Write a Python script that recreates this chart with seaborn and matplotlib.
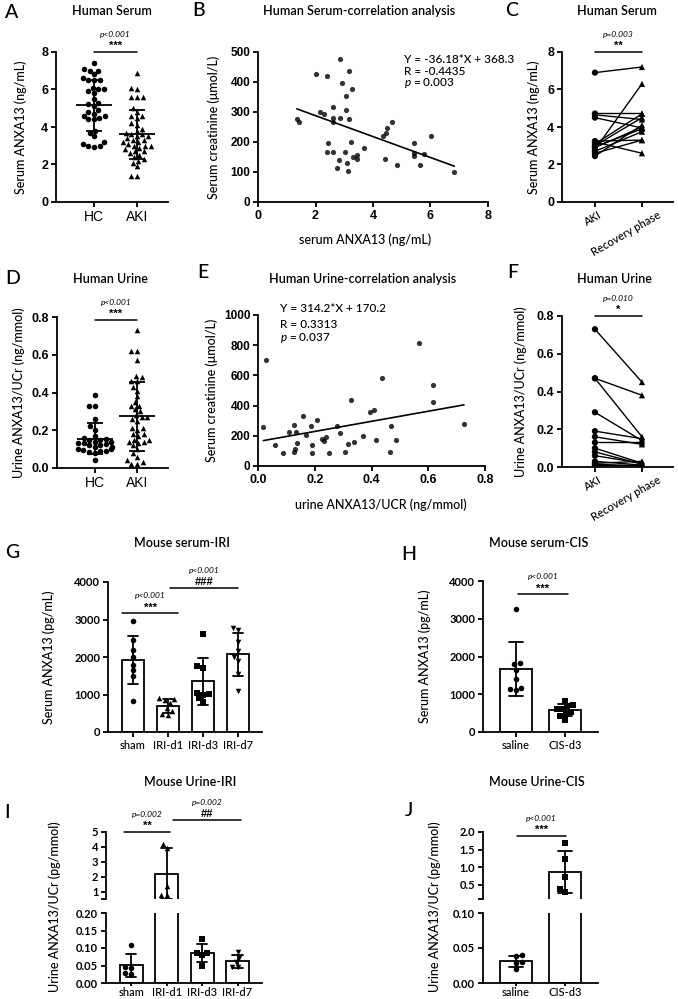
import numpy as np
import pandas as pd
import matplotlib
matplotlib.use("Agg")
import matplotlib.pyplot as plt
from matplotlib.transforms import ScaledTranslation
import seaborn as sns

# ---------------- data ----------------
# A: human serum ANXA13 (ng/mL)
serum_hc = [7.4, 7.1, 7.0, 7.0, 6.8, 6.6, 6.5, 6.5, 6.5, 6.1, 6.0, 6.0, 5.9, 5.8, 5.5, 5.3, 5.2,
            5.1, 4.9, 4.8, 4.7, 4.6, 4.6, 4.5, 4.4, 4.4, 3.8, 3.7, 3.5, 3.2, 3.1, 3.0, 3.0, 2.95]
serum_aki = [6.9, 6.1, 6.0, 5.6, 5.6, 5.6, 5.0, 4.8, 4.6, 4.6, 4.5, 4.2, 4.1, 3.9, 3.8, 3.7, 3.6,
             3.5, 3.5, 3.4, 3.3, 3.2, 3.2, 3.1, 3.0, 3.0, 3.0, 2.9, 2.8, 2.7, 2.7, 2.6, 2.5, 2.4,
             2.3, 2.2, 2.1, 1.9, 1.4, 1.4, 3.3, 3.6]

# B: serum ANXA13 vs serum creatinine
b_anxa13 = [1.35, 1.42, 2.03, 2.15, 2.30, 2.40, 2.45, 2.41, 2.60, 2.62, 2.62, 2.60, 2.76, 2.83,
            2.84, 2.84, 2.92, 3.05, 3.06, 3.02, 3.10, 3.14, 3.15, 3.17, 3.22, 3.26, 3.31, 3.43,
            3.43, 3.70, 4.34, 4.45, 4.50, 4.65, 4.43, 4.84, 5.41, 5.41, 5.41, 5.79, 5.62, 6.01, 6.83]
b_creat = [277, 268, 428, 301, 293, 420, 198, 166, 315, 279, 268, 168, 113, 140, 475, 279, 398,
           354, 306, 168, 129, 103, 435, 277, 201, 378, 151, 157, 143, 179, 220, 229, 248, 268,
           143, 122, 196, 163, 152, 160, 124, 221, 101]
b_stats = ["Y = -36.18*X + 368.3", "R = -0.4435", "$p$ = 0.003"]

# C: paired serum, AKI vs recovery
c_aki = [6.9, 4.72, 4.65, 4.5, 3.25, 3.2, 3.1, 3.0, 2.95, 2.9, 2.8, 2.7, 2.6, 2.45]
c_recovery = [7.2, 4.72, 4.4, 3.95, 3.3, 2.6, 4.7, 4.5, 3.9, 4.0, 6.3, 3.75, 3.3, 4.1]

# D: human urine ANXA13/UCr (ng/mmol)
urine_hc = [0.385, 0.33, 0.33, 0.26, 0.22, 0.20, 0.17, 0.16, 0.155, 0.15, 0.15, 0.14, 0.14, 0.13,
            0.13, 0.125, 0.12, 0.12, 0.11, 0.11, 0.10, 0.10, 0.095, 0.09, 0.09, 0.085, 0.08, 0.04]
urine_aki = [0.73, 0.62, 0.62, 0.57, 0.49, 0.48, 0.46, 0.46, 0.43, 0.41, 0.38, 0.35, 0.33, 0.33,
             0.31, 0.30, 0.28, 0.27, 0.27, 0.26, 0.25, 0.21, 0.21, 0.20, 0.18, 0.18, 0.17, 0.15,
             0.15, 0.14, 0.14, 0.13, 0.12, 0.10, 0.08, 0.06, 0.04, 0.02, 0.02, 0.03]

# E: urine ANXA13/UCR vs serum creatinine
e_anxa13 = [0.019, 0.028, 0.06, 0.088, 0.11, 0.126, 0.127, 0.133, 0.139, 0.13, 0.159, 0.168,
            0.188, 0.19, 0.19, 0.208, 0.227, 0.233, 0.24, 0.249, 0.28, 0.29, 0.305, 0.317, 0.329,
            0.337, 0.37, 0.396, 0.408, 0.417, 0.437, 0.466, 0.467, 0.486, 0.566, 0.615, 0.615, 0.726]
e_creat = [255, 703, 139, 86, 222, 95, 273, 225, 152, 115, 328, 205, 266, 137, 86, 302, 178, 163,
           194, 86, 266, 218, 92, 148, 438, 159, 196, 355, 370, 170, 581, 92, 266, 170, 813, 537,
           421, 280]
e_stats = ["Y = 314.2*X + 170.2", "R = 0.3313", "$p$ = 0.037"]

# F: paired urine, AKI vs recovery
f_aki = [0.73, 0.47, 0.47, 0.29, 0.19, 0.16, 0.13, 0.10, 0.08, 0.06, 0.03, 0.02, 0.015, 0.01]
f_recovery = [0.45, 0.38, 0.16, 0.14, 0.15, 0.12, 0.13, 0.02, 0.015, 0.02, 0.01, 0.03, 0.005, 0.01]

# G: mouse serum IRI (pg/mL)
iri_groups = ["sham", "IRI-d1", "IRI-d3", "IRI-d7"]
g_sham = [2950, 2450, 2200, 2000, 1800, 1650, 1500, 830]
g_d1 = [900, 880, 860, 780, 650, 560, 470, 450]
g_d3 = [2620, 1750, 1720, 1050, 1000, 1020, 900, 800]
g_d7 = [2780, 2720, 2400, 2150, 2000, 1900, 1550, 1100]

# H: mouse serum CIS (pg/mL)
cis_groups = ["saline", "CIS-d3"]
h_saline = [3270, 1840, 1790, 1650, 1400, 1160, 1150, 1100]
h_cis = [820, 720, 680, 620, 600, 540, 480, 420, 330]

# I: mouse urine IRI (pg/mmol)
i_sham = [0.108, 0.046, 0.044, 0.029, 0.026]
i_d1 = [4.2, 3.9, 1.4, 0.75, 0.75]
i_d3 = [0.125, 0.087, 0.085, 0.08, 0.05]
i_d7 = [0.088, 0.072, 0.06, 0.045, 0.045]

# J: mouse urine CIS (pg/mmol)
j_saline = [0.040, 0.038, 0.030, 0.028, 0.020]
j_cis = [1.69, 1.24, 0.71, 0.38, 0.31]

# ---------------- style ----------------
sns.set_theme(style="ticks")
plt.rcParams["font.family"] = ["Lato", "DejaVu Sans"]
plt.rcParams.update({
    "axes.linewidth": 1.3,
    "axes.edgecolor": "black",
    "axes.labelcolor": "black",
    "text.color": "black",
    "xtick.color": "black",
    "ytick.color": "black",
    "xtick.major.width": 1.3,
    "ytick.major.width": 1.3,
    "xtick.major.size": 3.5,
    "ytick.major.size": 3.5,
    "xtick.major.pad": 2,
    "ytick.major.pad": 2,
    "mathtext.fontset": "custom",
    "mathtext.it": "Lato:italic:medium",
    "mathtext.rm": "Lato:medium",
})

W, H = 678, 999
fig = plt.figure(figsize=(W / 100, H / 100), dpi=100)

ARIAL = "Liberation Sans"
LABEL = dict(fontsize=9, fontweight="medium")


def add_ax(left, top, right, bottom):
    # pixel box -> figure fraction
    return fig.add_axes([left / W, 1 - bottom / H, (right - left) / W, (bottom - top) / H])


def fig_text(x, y, s, **kw):
    fig.text(x / W, 1 - y / H, s, **kw)


def long_df(groups, values):
    return pd.DataFrame({
        "group": np.repeat(groups, [len(v) for v in values]),
        "value": np.concatenate(values),
    })


def sig(ax, x1, x2, y, mark, ptxt):
    ax.plot([x1, x2], [y, y], color="black", lw=1.1, clip_on=False)
    xm = (x1 + x2) / 2
    ax.annotate(mark, (xm, y), xytext=(0, 0.5), textcoords="offset points", ha="center",
                va="bottom", fontsize=8, fontfamily=ARIAL, fontweight="bold",
                annotation_clip=False)
    ax.annotate(ptxt, (xm, y), xytext=(0, 12.5), textcoords="offset points", ha="center",
                va="center", fontsize=6, style="italic", annotation_clip=False)


def column_scatter(ax, groups, values, markers, size=4.0):
    df = long_df(groups, values)
    for g, m in zip(groups, markers):
        sns.swarmplot(data=df[df.group == g], x="group", y="value", order=groups, marker=m,
                      color="black", size=size, linewidth=0, ax=ax)
    stats = df.groupby("group")["value"].agg(["mean", "std"]).reindex(groups)
    for i, (m, s) in enumerate(stats.values):
        ax.hlines(m, i - 0.42, i + 0.42, color="black", lw=1.3, zorder=4)
        ax.errorbar(i, m, yerr=s, fmt="none", ecolor="black", elinewidth=1.3, capsize=6,
                    capthick=1.3, zorder=4)


def paired(ax, before, after, labels):
    n = len(before)
    df = pd.DataFrame({
        "pair": list(range(n)) * 2,
        "phase": [labels[0]] * n + [labels[1]] * n,
        "value": before + after,
    })
    sns.lineplot(data=df, x="phase", y="value", units="pair", estimator=None, color="black",
                 lw=1.0, sort=False, ax=ax)
    sns.scatterplot(data=df, x="phase", y="value", style="phase",
                    markers={labels[0]: "o", labels[1]: "^"}, color="black", s=20,
                    linewidth=0, legend=False, ax=ax, zorder=3)


def bar_panel(ax, groups, values, markers, width, ylim, size=4.0):
    df = long_df(groups, values)
    sns.barplot(data=df, x="group", y="value", order=groups, errorbar="sd", capsize=0.3,
                width=width, color="white", saturation=1, edgecolor="black", linewidth=1.3,
                err_kws={"color": "black", "linewidth": 1.3}, ax=ax)
    ax.set_ylim(*ylim)
    for g, m in zip(groups, markers):
        sub = df[(df.group == g) & (df.value >= ylim[0]) & (df.value <= ylim[1])]
        if len(sub):
            sns.swarmplot(data=sub, x="group", y="value", order=groups, marker=m,
                          color="black", size=size, linewidth=0, ax=ax)
    ax.set_ylim(*ylim)


def finish(ax, xlim, ylim, yticks, ylabels, yfont, xlabels=None, xfont=None, xrot=0):
    sns.despine(ax=ax)
    ax.set_xlim(*xlim)
    ax.set_ylim(*ylim)
    ax.set_yticks(yticks, ylabels, **yfont)
    if xlabels is not None:
        if xrot:
            ax.set_xticks(range(len(xlabels)), xlabels, rotation=xrot, ha="right",
                          rotation_mode="anchor", **xfont)
            # GraphPad puts the long rotated label a bit right of its tick
            for lab in ax.get_xticklabels():
                dx = 0.8 * len(lab.get_text()) / 72
                lab.set_transform(lab.get_transform() + ScaledTranslation(dx, 0, fig.dpi_scale_trans))
        else:
            ax.set_xticks(range(len(xlabels)), xlabels, **xfont)
    ax.set_xlabel("")
    ax.set_ylabel("")


bold_arial9 = dict(fontfamily=ARIAL, fontsize=9, fontweight="bold")
bold_arial8 = dict(fontfamily=ARIAL, fontsize=8.5, fontweight="bold")
bold_lato8 = dict(fontfamily="Lato", fontsize=8, fontweight="bold")
lato8 = dict(fontfamily="Lato", fontsize=8, fontweight="medium")
arial10 = dict(fontfamily=ARIAL, fontsize=10)

# ---------------- A ----------------
ax = add_ax(56, 52, 168, 202)
column_scatter(ax, ["HC", "AKI"], [serum_hc, serum_aki], ["o", "^"])
finish(ax, (-0.88, 1.72), (0, 8), [0, 2, 4, 6, 8], ["0", "2", "4", "6", "8"], bold_arial9,
       ["HC", "AKI"], arial10)
ax.set_ylabel("Serum ANXA13 (ng/mL)", **LABEL)
ax.yaxis.set_label_coords(-0.26, 0.5)
sig(ax, 0, 1, 8, "***", "p<0.001")

# ---------------- B ----------------
ax = add_ax(258, 52, 488, 202)
sns.regplot(x=b_anxa13, y=b_creat, ci=None, color="black", ax=ax,
            scatter_kws={"s": 14, "linewidths": 0}, line_kws={"lw": 1.2})
finish(ax, (0, 8), (0, 500), [0, 100, 200, 300, 400, 500],
       ["0", "100", "200", "300", "400", "500"], bold_arial8)
ax.set_xticks([0, 2, 4, 6, 8], ["0", "2", "4", "6", "8"], **bold_arial9)
ax.set_ylabel("Serum creatinine (\u03bcmol/L)", **LABEL)
ax.yaxis.set_label_coords(-0.165, 0.5)
ax.set_xlabel("serum ANXA13 (ng/mL)", **LABEL)
ax.xaxis.set_label_coords(0.465, -0.207)
for txt, yy in zip(b_stats, [0.947, 0.867, 0.793]):
    ax.text(0.635, yy, txt, transform=ax.transAxes, fontsize=8.5, fontweight="medium",
            va="center", ha="left")

# ---------------- C ----------------
ax = add_ax(562, 52, 673, 202)
paired(ax, c_aki, c_recovery, ["AKI", "Recovery phase"])
finish(ax, (-0.70, 1.66), (0, 8), [0, 2, 4, 6, 8], ["0", "2", "4", "6", "8"], bold_arial9,
       ["AKI", "Recovery phase"], lato8, xrot=30)
ax.set_ylabel("Serum ANXA13 (ng/mL)", **LABEL)
ax.yaxis.set_label_coords(-0.198, 0.5)
sig(ax, 0, 1, 8, "**", "p=0.003")

# ---------------- D ----------------
ax = add_ax(57, 317, 168, 468)
column_scatter(ax, ["HC", "AKI"], [urine_hc, urine_aki], ["o", "^"])
finish(ax, (-0.88, 1.72), (0, 0.8), [0, 0.2, 0.4, 0.6, 0.8], ["0.0", "0.2", "0.4", "0.6", "0.8"],
       bold_arial9, ["HC", "AKI"], arial10)
ax.set_ylabel("Urine ANXA13/UCr (ng/mmol)", **LABEL)
ax.yaxis.set_label_coords(-0.29, 0.5)
sig(ax, 0, 1, 0.785, "***", "p<0.001")

# ---------------- E ----------------
ax = add_ax(258, 315, 485, 466)
sns.regplot(x=e_anxa13, y=e_creat, ci=None, color="black", ax=ax,
            scatter_kws={"s": 14, "linewidths": 0}, line_kws={"lw": 1.2})
finish(ax, (0, 0.8), (0, 1000), [0, 200, 400, 600, 800, 1000],
       ["0", "200", "400", "600", "800", "1000"], bold_arial8)
ax.set_xticks([0, 0.2, 0.4, 0.6, 0.8], ["0.0", "0.2", "0.4", "0.6", "0.8"], **bold_arial9)
ax.set_ylabel("Serum creatinine (\u03bcmol/L)", **LABEL)
ax.yaxis.set_label_coords(-0.176, 0.5)
ax.set_xlabel("urine ANXA13/UCR (ng/mmol)", **LABEL)
ax.xaxis.set_label_coords(0.54, -0.212)
for txt, yy in zip(e_stats, [1.046, 0.94, 0.848]):
    ax.text(0.097, yy, txt, transform=ax.transAxes, fontsize=8.5, fontweight="medium",
            va="center", ha="left")

# ---------------- F ----------------
ax = add_ax(562, 316, 673, 467)
paired(ax, f_aki, f_recovery, ["AKI", "Recovery phase"])
finish(ax, (-0.70, 1.66), (0, 0.8), [0, 0.2, 0.4, 0.6, 0.8], ["0.0", "0.2", "0.4", "0.6", "0.8"],
       bold_arial9, ["AKI", "Recovery phase"], lato8, xrot=30)
ax.set_ylabel("Urine ANXA13/UCr (ng/mmol)", **LABEL)
ax.yaxis.set_label_coords(-0.315, 0.5)
sig(ax, 0, 1, 0.8, "*", "p=0.010")

# ---------------- G ----------------
ax = add_ax(108, 582, 262, 732)
bar_panel(ax, iri_groups, [g_sham, g_d1, g_d3, g_d7], ["o", "^", "s", "v"], 0.63, (0, 4000))
finish(ax, (-0.71, 3.69), (0, 4000), [0, 1000, 2000, 3000, 4000],
       ["0", "1000", "2000", "3000", "4000"], bold_lato8, iri_groups, lato8)
ax.set_ylabel("Serum ANXA13 (pg/mL)", **LABEL)
ax.yaxis.set_label_coords(-0.344, 0.5)
sig(ax, -0.3, 1.3, 3170, "***", "p<0.001")
sig(ax, 1.06, 3.0, 3840, "###", "p<0.001")

# ---------------- H ----------------
ax = add_ax(483, 581, 598, 732)
bar_panel(ax, cis_groups, [h_saline, h_cis], ["o", "s"], 0.65, (0, 4000))
finish(ax, (-0.67, 1.67), (0, 4000), [0, 1000, 2000, 3000, 4000],
       ["0", "1000", "2000", "3000", "4000"], bold_lato8, cis_groups, lato8)
ax.set_ylabel("Serum ANXA13 (pg/mL)", **LABEL)
ax.yaxis.set_label_coords(-0.452, 0.5)
sig(ax, 0.04, 1.06, 3650, "***", "p<0.001")

# ---------------- I (broken axis) ----------------
i_values = [i_sham, i_d1, i_d3, i_d7]
ax_top = add_ax(106, 832, 262, 899)
bar_panel(ax_top, iri_groups, i_values, ["o", "^", "s", "v"], 0.65, (0.5, 5))
finish(ax_top, (-0.71, 3.69), (0.5, 5), [0.5, 1, 2, 3, 4, 5], ["", "1", "2", "3", "4", "5"],
       bold_lato8)
ax_top.spines["bottom"].set_visible(False)
ax_top.tick_params(axis="x", bottom=False, labelbottom=False)
sig(ax_top, -0.2, 1.09, 5.0, "**", "p=0.002")
sig(ax_top, 1.17, 3.1, 5.8, "##", "p=0.002")

ax = add_ax(106, 913, 262, 983)
bar_panel(ax, iri_groups, i_values, ["o", "^", "s", "v"], 0.65, (0, 0.2))
finish(ax, (-0.71, 3.69), (0, 0.2), [0, 0.05, 0.10, 0.15, 0.20],
       ["0.00", "0.05", "0.10", "0.15", "0.20"], bold_lato8, iri_groups, lato8)
ax.tick_params(axis="x", length=2.5, pad=0.5)
fig_text(55, 907, "Urine ANXA13/UCr (pg/mmol)", rotation=90, ha="center", va="center", **LABEL)

# ---------------- J (broken axis) ----------------
j_values = [j_saline, j_cis]
ax_top = add_ax(483, 832, 598, 899)
bar_panel(ax_top, cis_groups, j_values, ["o", "s"], 0.65, (0.1, 2.0))
finish(ax_top, (-0.67, 1.67), (0.1, 2.0), [0.1, 0.5, 1.0, 1.5, 2.0],
       ["", "0.5", "1.0", "1.5", "2.0"], bold_lato8)
ax_top.spines["bottom"].set_visible(False)
ax_top.tick_params(axis="x", bottom=False, labelbottom=False)
sig(ax_top, 0.02, 1.02, 1.89, "***", "p<0.001")

ax = add_ax(483, 913, 598, 983)
bar_panel(ax, cis_groups, j_values, ["o", "s"], 0.65, (0, 0.1))
finish(ax, (-0.67, 1.67), (0, 0.1), [0, 0.05, 0.10], ["0.00", "0.05", "0.10"], bold_lato8,
       cis_groups, lato8)
ax.tick_params(axis="x", length=2.5, pad=0.5)
fig_text(435, 907, "Urine ANXA13/UCr (pg/mmol)", rotation=90, ha="center", va="center", **LABEL)

# ---------------- titles and panel letters ----------------
titles = [
    (112, 11, "Human Serum"), (359, 11, "Human Serum-correlation analysis"), (617, 11, "Human Serum"),
    (110, 279, "Human Urine"), (363, 279, "Human Urine-correlation analysis"), (614, 279, "Human Urine"),
    (182, 543, "Mouse serum-IRI"), (539, 543, "Mouse serum-CIS"),
    (190, 782, "Mouse Urine-IRI"), (537, 782, "Mouse Urine-CIS"),
]
for x, y, s in titles:
    fig_text(x, y, s, ha="center", va="center", fontsize=9, fontweight="semibold")

letters = [
    (5, 12, "A"), (192, 11, "B"), (505, 11, "C"), (5, 279, "D"), (197, 272, "E"), (507, 272, "F"),
    (5, 553, "G"), (401, 554, "H"), (4, 812, "I"), (405, 811, "J"),
]
for x, y, s in letters:
    fig_text(x, y, s, ha="left", va="center", fontsize=14, fontweight="medium")

fig.savefig("out.png", dpi=100)
